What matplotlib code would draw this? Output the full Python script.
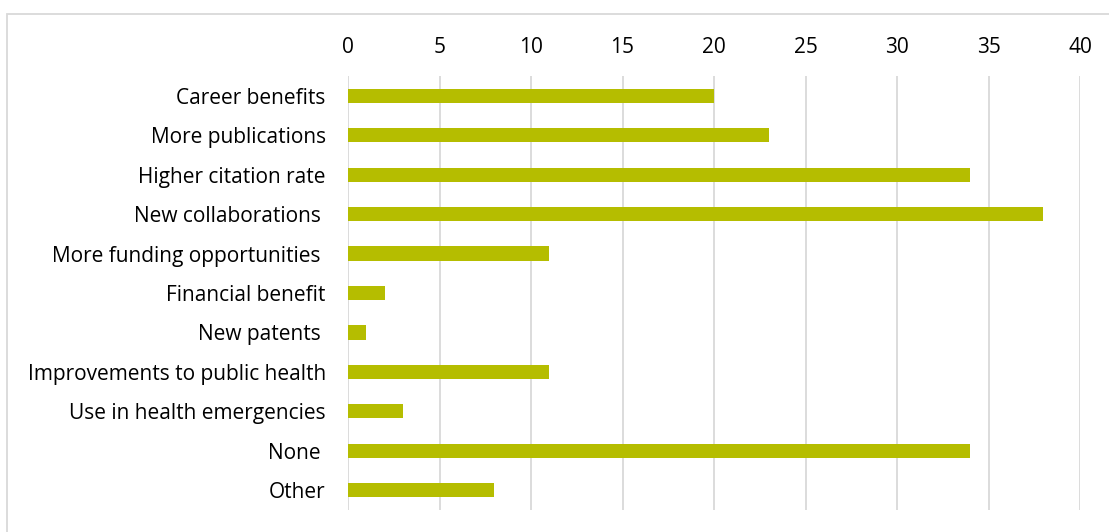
import matplotlib.pyplot as plt
from matplotlib.patches import Rectangle

categories = ["Career benefits", "More publications", "Higher citation rate",
              "New collaborations ", "More funding opportunities ", "Financial benefit",
              "New patents ", "Improvements to public health", "Use in health emergencies",
              "None ", "Other"]
values = [20, 23, 34, 38, 11, 2, 1, 11, 3, 34, 8]
ticks = [0, 5, 10, 15, 20, 25, 30, 35, 40]

plt.rcParams['font.family'] = ['Open Sans', 'DejaVu Sans']

fig = plt.figure(figsize=(11.09, 5.32), dpi=100)
ax = fig.add_axes([348 / 1109, 1 - 510 / 532, (1080 - 348) / 1109, (510 - 76) / 532])

y = list(range(len(categories)))
ax.barh(y, values, height=0.36, color="#B5BD00", zorder=3)
ax.set_ylim(len(categories) - 0.5, -0.5)
ax.set_xlim(0, 40)
ax.set_xticks(ticks)
ax.set_yticks(y)
ax.set_yticklabels(categories)
ax.xaxis.tick_top()
ax.tick_params(axis='x', length=0, pad=13, labelsize=15, colors="#000000")
ax.tick_params(axis='y', length=0, pad=16, labelsize=15)
ax.grid(axis='x', color="#D9D9D9", linewidth=1.3, zorder=0)
for s in ax.spines.values():
    s.set_visible(False)

fig.patches.append(Rectangle((7 / 1109, -10 / 532), 1120 / 1109, 528 / 532,
                             transform=fig.transFigure, fill=False,
                             edgecolor="#D9D9D9", linewidth=1.3))

fig.savefig("out.png", dpi=100)
